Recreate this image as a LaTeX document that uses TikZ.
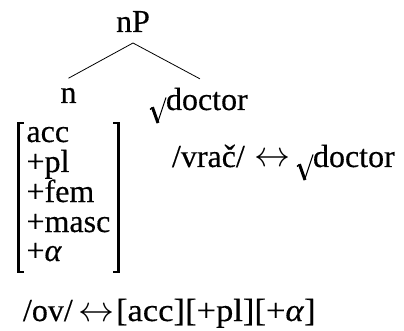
\RequirePackage{fix-cm}
\documentclass[tikz,border=0pt]{standalone}
\usepackage{fontspec}
\setmainfont{Liberation Serif}[FakeBold=0.35]
\begin{document}
\begin{tikzpicture}[x=1pt,y=-1pt,
  txt/.style={inner sep=0pt, outer sep=0pt, font=\fontsize{32}{34}\selectfont},
  arr/.style={inner sep=0pt, outer sep=0pt, font=\fontsize{36}{36}\selectfont},
  branch/.style={line width=0.8pt},
  brk/.style={line width=2.3pt},
  radical/.pic={
    \draw[line width=1.4pt, line join=round] (-16,-0.5) -- (-13.5,-2.5);
    \draw[line width=3pt] (-13.6,-2.8) -- (-8,13);
    \draw[line width=1.1pt] (-8.5,13) -- (0,-12.5);
  }]
\useasboundingbox (0,0) rectangle (404,331);
% tree
\node[txt, anchor=base] (nP) at (133,32) {nP};
\node[txt, anchor=base] (n) at (68.5,103) {n};
\node[txt, anchor=base west] (root) at (166,110) {doctor};
\pic at (root.base west) {radical};
\draw[branch] ([yshift=-11pt]nP.south) -- ([yshift=9.7pt]n.north);
\draw[branch] ([yshift=-11pt]nP.south) -- ([xshift=-7pt,yshift=9pt]root.north);
% feature matrix
\node[txt, anchor=base west] (f1) at (26.5,142) {acc};
\node[txt, anchor=base west] (f2) at (26.5,172) {+pl};
\node[txt, anchor=base west] (f3) at (26.5,202) {+fem};
\node[txt, anchor=base west] (f4) at (26.5,232) {+masc};
\node[txt, anchor=base west] (f5) at (26.5,261) {+\textit{α}};
\draw[brk] (23.5,123) -- (18.5,123) -- (18.5,272) -- (23.5,272);
\draw[brk] (113,123) -- (118.5,123) -- (118.5,272) -- (113,272);
% rule 1
\node[txt, anchor=base west] (v1) at (172,167) {/vrač/};
\node[arr, anchor=base] (a1) at (272,167) {$\leftrightarrow$};
\node[txt, anchor=base west] (d1) at (313,167) {doctor};
\pic at (d1.base west) {radical};
% rule 2
\node[txt, anchor=base west] (v2) at (23,321) {/ov/};
\node[arr, anchor=base] (a2) at (96,321) {$\leftrightarrow$};
\node[txt, anchor=base west] (e2) at (116,321) {\scalebox{1.08}[1]{[acc][+pl][+\textit{α}]}};
\end{tikzpicture}
\end{document}
